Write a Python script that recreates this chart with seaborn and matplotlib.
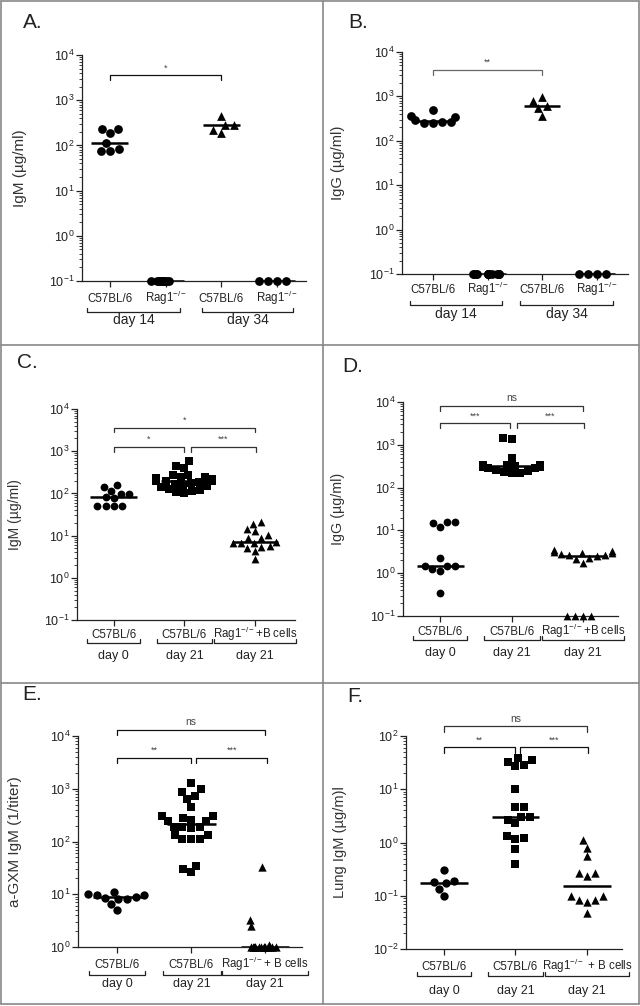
import numpy as np
import pandas as pd
import seaborn as sns
from matplotlib import pyplot as plt
from matplotlib.lines import Line2D
from matplotlib.ticker import LogLocator, NullFormatter

sns.set_theme(style="ticks")
plt.rcParams["font.family"] = ["Liberation Sans", "DejaVu Sans"]
plt.rcParams["mathtext.fontset"] = "custom"
plt.rcParams["mathtext.rm"] = "Liberation Sans"
plt.rcParams["mathtext.it"] = "Liberation Sans:italic"
plt.rcParams["mathtext.bf"] = "Liberation Sans:bold"
plt.rcParams["text.color"] = "#222222"
plt.rcParams["axes.labelcolor"] = "#333333"
np.random.seed(2)  # only for the horizontal jitter of tied values

W, H = 640, 1006
RAG = "Rag1$^{-/-}$"

# --- data ---
a_c57_d14 = [230, 185, 230, 112, 85, 74, 74]
a_rag_d14 = [0.1] * 10
a_c57_d34 = [445, 285, 285, 190, 220]
a_rag_d34 = [0.1] * 4

b_c57_d14 = [490, 365, 350, 290, 265, 260, 255, 250]
b_rag_d14 = [0.1] * 12
b_c57_d34 = [950, 800, 610, 550, 365]
b_rag_d34 = [0.1] * 4

c_d0 = [115, 155, 138, 77, 96, 96, 84, 50, 50, 50, 50]
c_d21 = [580, 410, 450, 280, 280, 250, 240, 230, 220, 210, 200, 200,
         195, 190, 180, 170, 160, 150, 140, 130, 120, 115, 110, 105]
c_rag = [21, 19, 14, 12.6, 10.5, 8.9, 8.9, 7.1, 6.8, 6.8, 6.8, 5.6, 5.5, 5.2, 4.3, 2.8]

d_d0 = [16, 14.5, 12, 15.5, 2.3, 1.5, 1.26, 1.15, 1.45, 1.5, 0.35]
d_d21 = [1350, 1420, 500, 340, 330, 330, 325, 320, 320, 315, 310, 300,
         290, 280, 260, 240, 230, 220, 215]
d_rag = [3.4, 3.3, 3.2, 3.0, 2.9, 2.8, 2.7, 2.6, 2.5, 2.3, 2.1, 1.7, 0.1, 0.1, 0.1, 0.1]

e_d0 = [10, 9.5, 9.0, 8.5, 8.0, 8.3, 9.8, 11, 5, 6.5]
e_d21 = [1290, 970, 850, 740, 635, 460, 300, 300, 280, 260, 250, 250,
         190, 190, 190, 180, 130, 130, 112, 110, 110, 35, 30, 26]
e_rag = [33, 3.3, 2.5, 1.1] + [1.0] * 14

f_d0 = [0.31, 0.19, 0.18, 0.17, 0.135, 0.1]
f_d21 = [39, 35, 33, 29, 27.5, 10, 4.7, 4.6, 3.0, 3.0, 2.7, 2.3, 1.3, 1.2, 1.15, 0.76, 0.39]
f_rag = [1.1, 0.8, 0.55, 0.27, 0.27, 0.23, 0.1, 0.1, 0.083, 0.083, 0.075, 0.047]

top_ticks = ["C57BL/6", RAG, "C57BL/6", RAG]
top_days = ["day 14", "day 34"]
bot_ticks = ["C57BL/6", "C57BL/6", RAG + "+B cells"]
bot_ticks_e = ["C57BL/6", "C57BL/6", RAG + "+ B cells"]
bot_ticks_f = ["C57BL/6", "C57BL/6", RAG + " + B cells"]
bot_days = ["day 0", "day 21", "day 21"]


def axes_px(ax):
    pos = ax.get_position()
    return pos.width * W, pos.height * H


def make_axes(fig, left, right, top, bottom):
    return fig.add_axes([left / W, 1 - bottom / H, (right - left) / W, (bottom - top) / H])


def scatter_panel(ax, values, markers, size, ylim, xlim, strip=(), jitter=0.28):
    keys = [f"g{i}" for i in range(len(values))]
    df = pd.DataFrame({
        "group": np.repeat(keys, [len(v) for v in values]),
        "value": np.concatenate([np.asarray(v, float) for v in values]),
    })
    ax.set_yscale("log")
    for i, (k, m) in enumerate(zip(keys, markers)):
        sub = df[df.group == k]
        if i in strip:
            sns.stripplot(data=sub, x="group", y="value", order=keys, jitter=jitter,
                          marker=m, color="black", size=size, linewidth=0,
                          clip_on=False, zorder=3, ax=ax)
        else:
            sns.swarmplot(data=sub, x="group", y="value", order=keys,
                          marker=m, color="black", size=size,
                          linewidth=0, clip_on=False, zorder=3, warn_thresh=1, ax=ax)
    sns.boxplot(data=df, x="group", y="value", order=keys, width=0.66,
                showbox=False, showcaps=False, showfliers=False,
                whiskerprops={"visible": False},
                medianprops={"color": "black", "linewidth": 1.8, "zorder": 4},
                ax=ax)
    ax.set_ylim(*ylim)
    ax.set_xlim(*xlim)
    ax.yaxis.set_major_locator(LogLocator(base=10, numticks=10))
    ax.yaxis.set_minor_locator(LogLocator(base=10, subs=np.arange(2, 10), numticks=50))
    ax.yaxis.set_minor_formatter(NullFormatter())
    ax.set_xlabel("")
    sns.despine(ax=ax)
    for s in ["left", "bottom"]:
        ax.spines[s].set_linewidth(0.9)
        ax.spines[s].set_color("#222222")
    ax.tick_params(axis="y", which="major", length=4, width=0.9, labelsize=9,
                   colors="#222222", pad=1.5)
    ax.tick_params(axis="y", which="minor", length=2.2, width=0.6, colors="#222222")


def set_xlabels(ax, labels, base_px):
    # baseline of the tick labels sits base_px below the axis line
    ax.set_xticks(range(len(labels)), labels)
    ax.tick_params(axis="x", length=4, width=0.9, labelsize=8.3, colors="#222222",
                   pad=(base_px - 5.6) * 0.72)
    for t in ax.get_xticklabels():
        t.set_verticalalignment("baseline")


def sig_bracket(ax, x0, x1, y, text, size=6.5, color="#333333"):
    drop = 0.11
    ax.plot([x0, x0, x1, x1], [10 ** (y - drop), 10 ** y, 10 ** y, 10 ** (y - drop)],
            color=color, lw=0.9, clip_on=False, zorder=5)
    ax.annotate(text, ((x0 + x1) / 2, 10 ** y), xytext=(0, 2), textcoords="offset points",
                ha="center", va="bottom", fontsize=size, color="#444444",
                annotation_clip=False)


def group_brackets(ax, spans, labels, line_px, text_px, size=9):
    _, ah = axes_px(ax)
    tr = ax.get_xaxis_transform()
    yl = -line_px / ah
    yt = -(line_px - 4) / ah
    for (x0, x1), lab in zip(spans, labels):
        ax.plot([x0, x0, x1, x1], [yt, yl, yl, yt], color="#222222", lw=0.9,
                transform=tr, clip_on=False)
        ax.text((x0 + x1) / 2, -text_px / ah, lab, transform=tr, ha="center", va="top",
                fontsize=size, color="#222222")


def ylabel(ax, text, px_left, size):
    # px_left: distance from the y axis to the centre of the rotated label
    aw, _ = axes_px(ax)
    ax.set_ylabel(text, fontsize=size, color="#333333")
    ax.yaxis.set_label_coords(-(px_left - 0.65 * size) / aw, 0.5)


def main():
    fig = plt.figure(figsize=(W / 100, H / 100), dpi=100)

    # A
    ax = make_axes(fig, 82, 306, 55, 281)
    scatter_panel(ax, [a_c57_d14, a_rag_d14, a_c57_d34, a_rag_d34], ["o", "o", "^", "o"],
                  6.3, (1e-1, 1e4), (-0.5, 3.52), strip=(1,), jitter=0.27)
    set_xlabels(ax, top_ticks, 21)
    sig_bracket(ax, 0, 2, 3.55, "*", color="#111111")
    group_brackets(ax, [(-0.41, 1.26), (1.65, 3.29)], top_days, 31, 32, size=10)
    ylabel(ax, "IgM (µg/ml)", 62, 11)

    # B
    ax = make_axes(fig, 402, 628, 52, 274)
    scatter_panel(ax, [b_c57_d14, b_rag_d14, b_c57_d34, b_rag_d34], ["o", "o", "^", "o"],
                  6.3, (1e-1, 1e4), (-0.57, 3.57), strip=(1,), jitter=0.3)
    set_xlabels(ax, top_ticks, 19)
    sig_bracket(ax, 0, 2, 3.6, "**", color="#666666")
    group_brackets(ax, [(-0.43, 1.27), (1.6, 3.3)], top_days, 31, 33, size=10)
    ylabel(ax, "IgG (µg/ml)", 64, 10.6)

    # C
    ax = make_axes(fig, 77, 295, 409, 620)
    scatter_panel(ax, [c_d0, c_d21, c_rag], ["o", "s", "^"], 5.6, (1e-1, 1e4), (-0.52, 2.57))
    set_xlabels(ax, bot_ticks, 18)
    sig_bracket(ax, 0, 2, 3.56, "*")
    sig_bracket(ax, 0, 1, 3.1, "*")
    sig_bracket(ax, 1.09, 2.02, 3.1, "***")
    group_brackets(ax, [(-0.38, 0.38), (0.62, 1.4), (1.42, 2.58)], bot_days, 23, 30)
    ylabel(ax, "IgM (µg/ml)", 62, 10)

    # D
    ax = make_axes(fig, 403, 618, 402, 616)
    scatter_panel(ax, [d_d0, d_d21, d_rag], ["o", "s", "^"], 5.6, (1e-1, 1e4), (-0.52, 2.49))
    set_xlabels(ax, bot_ticks, 19)
    sig_bracket(ax, 0, 2, 3.91, "ns", size=7.5)
    sig_bracket(ax, 0, 0.98, 3.5, "***")
    sig_bracket(ax, 1.07, 2.02, 3.5, "***")
    group_brackets(ax, [(-0.38, 0.38), (0.62, 1.4), (1.42, 2.58)], bot_days, 24, 31)
    ylabel(ax, "IgG (µg/ml)", 65, 10.3)

    # E
    ax = make_axes(fig, 78, 302, 736, 947)
    scatter_panel(ax, [e_d0, e_d21, e_rag], ["o", "s", "^"], 6, (1, 1e4), (-0.53, 2.5),
                  strip=(2,), jitter=0.25)
    set_xlabels(ax, bot_ticks_e, 21)
    sig_bracket(ax, 0, 2, 4.12, "ns", size=7.5, color="#111111")
    sig_bracket(ax, 0, 1, 3.59, "**", color="#111111")
    sig_bracket(ax, 1.07, 2.03, 3.59, "***", color="#111111")
    group_brackets(ax, [(-0.38, 0.38), (0.62, 1.4), (1.42, 2.58)], bot_days, 28, 31)
    ylabel(ax, "a-GXM IgM (1/titer)", 63, 11)

    # F
    ax = make_axes(fig, 406, 622, 736, 949)
    scatter_panel(ax, [f_d0, f_d21, f_rag], ["o", "s", "^"], 6, (1e-2, 1e2), (-0.53, 2.49))
    set_xlabels(ax, bot_ticks_f, 21)
    sig_bracket(ax, 0, 2, 2.18, "ns", size=7.5)
    sig_bracket(ax, 0, 1, 1.79, "**", color="#111111")
    sig_bracket(ax, 1.07, 2.02, 1.79, "***", color="#111111")
    group_brackets(ax, [(-0.37, 0.38), (0.62, 1.38), (1.41, 2.59)], bot_days, 27, 36)
    ylabel(ax, "Lung IgM (µg/m)l", 66, 10.5)

    # panel letters
    for lab, x, y in [("A.", 23, 22), ("B.", 348, 22), ("C.", 17, 362),
                      ("D.", 342, 367), ("E.", 22, 695), ("F.", 347, 697)]:
        fig.text(x / W, 1 - y / H, lab, fontsize=15, va="center", ha="left", color="#222222")

    # frame and dividers
    grey = "#888888"
    for xs, ys in [([1, 639], [1, 1]), ([1, 639], [1004, 1004]), ([1, 1], [1, 1004]),
                   ([639, 639], [1, 1004]), ([323, 323], [1, 1004]),
                   ([1, 639], [345, 345]), ([1, 639], [683, 683])]:
        fig.add_artist(Line2D([x / W for x in xs], [1 - y / H for y in ys],
                              color=grey, lw=1.2))

    fig.savefig("out.png", dpi=100)


if __name__ == "__main__":
    main()
